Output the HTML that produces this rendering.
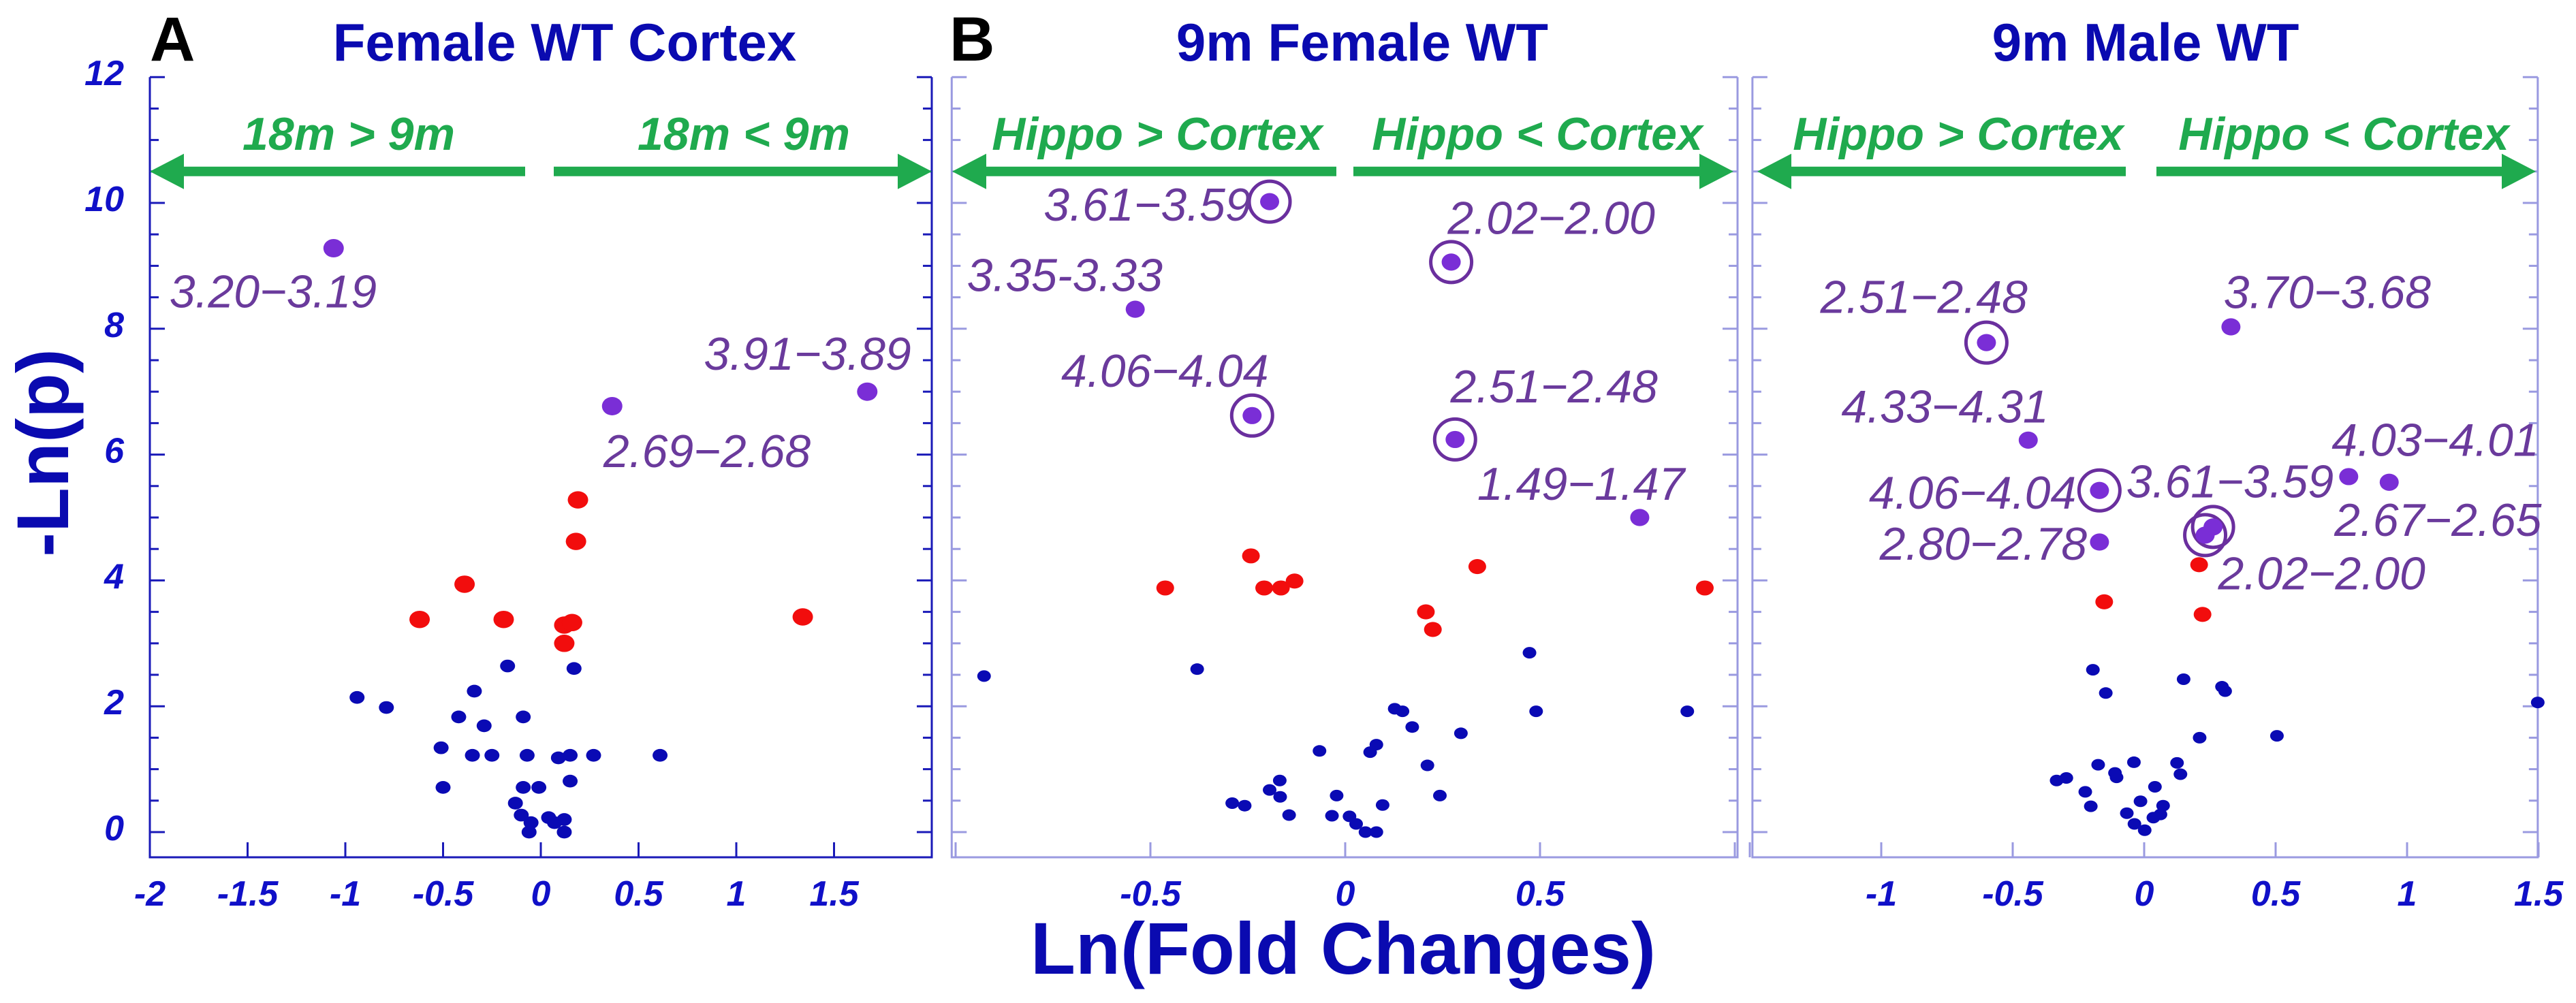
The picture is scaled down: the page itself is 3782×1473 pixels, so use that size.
<!DOCTYPE html>
<html><head><meta charset="utf-8">
<style>
html,body{margin:0;padding:0;background:#fff;}
svg{display:block;}
text{font-family:"Liberation Sans",Arial,sans-serif;}
</style></head>
<body>
<svg id="chart" width="3782" height="1473" viewBox="0 0 3782 1473" xmlns="http://www.w3.org/2000/svg">
<text x="220" y="89" font-size="92" font-weight="bold" fill="#000">A</text>
<text x="1394" y="89" font-size="92" font-weight="bold" fill="#000">B</text>
<text x="829" y="89" font-size="78" font-weight="bold" fill="#0a0ab0" text-anchor="middle">Female WT Cortex</text>
<text x="2000" y="89" font-size="78" font-weight="bold" fill="#0a0ab0" text-anchor="middle">9m Female WT</text>
<text x="3150" y="89" font-size="78" font-weight="bold" fill="#0a0ab0" text-anchor="middle">9m Male WT</text>
<text transform="translate(100,665) rotate(-90)" font-size="108" font-weight="bold" fill="#0a0ab0" text-anchor="middle">-Ln(p)</text>
<text x="1972" y="1430" font-size="108" font-weight="bold" fill="#0a0ab0" text-anchor="middle">Ln(Fold Changes)</text>
<g id="plots"></g>
</svg>
<script>
// Panel A data: Female WT Cortex
const aBlueX=[-0.94,-0.79,-0.17,0.17,-0.34,-0.42,-0.09,-0.29,-0.51,-0.35,-0.25,-0.07,0.09,0.15,0.27,0.61,-0.50,-0.09,-0.01,0.15,-0.13,-0.10,-0.05,-0.06,0.04,0.07,0.12,0.12];
const aBlueY=[2.14,1.98,2.64,2.60,2.24,1.83,1.83,1.69,1.34,1.22,1.22,1.22,1.18,1.22,1.22,1.22,0.71,0.71,0.71,0.81,0.46,0.27,0.15,0.00,0.23,0.15,0.20,0.00];
const aRedX=[-0.62,-0.39,-0.19,0.19,0.18,0.12,0.16,0.12,1.34];
const aRedY=[3.38,3.94,3.38,5.28,4.62,3.29,3.33,3.00,3.42];
const aPurpleX=[-1.06,0.365,1.67];
const aPurpleY=[9.28,6.77,7.00];
const aRingX=[];
const aRingY=[];
const aLabelText=["3.20\u22123.19","3.91\u22123.89","2.69\u22122.68"];
const aLabelX=[-1.90,0.834,0.32];
const aLabelY=[8.34,7.35,5.80];
const aTicks=[-2,-1.5,-1,-0.5,0,0.5,1,1.5];
const aTickLabels=["-2","-1.5","-1","-0.5","0","0.5","1","1.5"];

// Panel B data: 9m Female WT
const bBlueX=[-0.927,-0.38,0.473,0.49,0.878,0.127,0.147,0.172,0.297,-0.066,0.064,0.08,0.211,0.243,-0.168,-0.194,-0.167,-0.29,-0.258,-0.144,-0.022,-0.034,0.011,0.028,0.052,0.08,0.096];
const bBlueY=[2.48,2.59,2.85,1.92,1.92,1.96,1.92,1.67,1.57,1.29,1.27,1.39,1.06,0.58,0.82,0.67,0.56,0.46,0.42,0.27,0.58,0.26,0.25,0.13,0.00,0.00,0.43];
const bRedX=[-0.242,-0.462,-0.208,-0.165,-0.13,0.339,0.207,0.225,0.923];
const bRedY=[4.39,3.88,3.88,3.88,3.99,4.22,3.50,3.22,3.88];
const bPurpleX=[-0.539,0.756,-0.194,0.272,-0.239,0.282];
const bPurpleY=[8.31,5.00,10.02,9.06,6.62,6.24];
const bRingX=[-0.194,0.272,-0.239,0.282];
const bRingY=[10.02,9.06,6.62,6.24];
const bLabelText=["3.61\u22123.59","2.02\u22122.00","3.35-3.33","4.06\u22124.04","2.51\u22122.48","1.49\u22121.47"];
const bLabelX=[-0.774,0.263,-0.971,-0.729,0.27,0.339];
const bLabelY=[9.72,9.51,8.60,7.08,6.83,5.28];
const bTicks=[-1,-0.5,0,0.5,1];
const bTickLabels=["","-0.5","0","0.5",""];

// Panel C data: 9m Male WT
const cBlueX=[-0.195,-0.146,0.15,0.296,0.308,1.497,0.211,0.505,-0.175,-0.039,-0.111,-0.105,0.125,0.138,-0.333,-0.296,-0.224,-0.203,0.041,-0.014,0.072,0.062,-0.066,0.035,-0.037,0.002];
const cBlueY=[2.58,2.21,2.43,2.31,2.24,2.06,1.50,1.53,1.07,1.11,0.94,0.87,1.10,0.92,0.82,0.86,0.64,0.41,0.72,0.49,0.42,0.28,0.30,0.23,0.13,0.03];
const cRedX=[0.209,-0.152,0.222];
const cRedY=[4.25,3.66,3.46];
const cPurpleX=[0.33,-0.441,-0.17,0.778,0.932,-0.60,-0.17,0.232,0.262];
const cPurpleY=[8.03,6.23,4.61,5.65,5.56,7.78,5.43,4.72,4.85];
const cRingX=[-0.60,-0.17,0.232,0.262];
const cRingY=[7.78,5.43,4.72,4.85];
const cLabelText=["2.51\u22122.48","3.70\u22123.68","4.33\u22124.31","4.03\u22124.01","4.06\u22124.04","3.61\u22123.59","2.67\u22122.65","2.80\u22122.78","2.02\u22122.00"];
const cLabelX=[-1.232,0.302,-1.152,0.713,-1.047,-0.068,0.723,-1.006,0.281];
const cLabelY=[8.25,8.33,6.51,5.98,5.14,5.32,4.71,4.33,3.86];
const cTicks=[-1.5,-1,-0.5,0,0.5,1,1.5];
const cTickLabels=["","-1","-0.5","0","0.5","1","1.5"];

const yTicks=[0,2,4,6,8,10,12];
const yTickLabels=["0","2","4","6","8","10","12"];

const NS="http://www.w3.org/2000/svg";
const root=document.getElementById('plots');
function mk(tag,attrs,parent){const e=document.createElementNS(NS,tag);for(const k in attrs)e.setAttribute(k,attrs[k]);(parent||root).appendChild(e);return e;}

const Y0=1222, YPU=92.4, YMIN=-0.4, YMAX=12;
function yS(v){return Y0-v*YPU;}

function panel(cfg){
  const g=mk('g',{});
  
  
  const xS=v=>cfg.x0+v*cfg.xpu;
  const L=xS(cfg.xmin), R=xS(cfg.xmax), T=yS(YMAX), B=yS(YMIN);
  const col=cfg.frame;
  const ax=mk('path',{d:`M${L},${T} L${L},${B} L${R},${B} L${R},${T}`,fill:'none',stroke:col,'stroke-width':3},g);
  
  
  for(let v=0;v<=12.001;v+=0.5){
    const major=Math.abs(v%2)<0.01;
    const len=major?22:13;
    mk('line',{x1:L,x2:L+len,y1:yS(v),y2:yS(v),stroke:col,'stroke-width':3},g);
    mk('line',{x1:R,x2:R-len,y1:yS(v),y2:yS(v),stroke:col,'stroke-width':3},g);
  }
  cfg.ticks.forEach((v,i)=>{
    mk('line',{x1:xS(v),x2:xS(v),y1:B,y2:B-22,stroke:col,'stroke-width':3},g);
    if(cfg.tickLabels[i]){
      const t=mk('text',{x:xS(v),y:1330,'font-size':52,'font-weight':'bold','font-style':'italic',fill:'#1010c8','text-anchor':'middle'},g);
      t.textContent=cfg.tickLabels[i];
      
      
    }
  });
  if(cfg.yLabels){
    yTicks.forEach((v,i)=>{
      const t=mk('text',{x:182,y:yS(v)+12,'font-size':52,'font-weight':'bold','font-style':'italic',fill:'#1010c8','text-anchor':'end'},g);
      t.textContent=yTickLabels[i];
      
      
    });
  }
  const ay=yS(10.5), green='#1faa4e';
  [[cfg.arr[0],cfg.arr[1]],[cfg.arr[2],cfg.arr[3]]].forEach(([tail,tip],k)=>{
    const dir=tip>tail?1:-1;
    const hb=tip-dir*50;
    const a=mk('path',{d:`M${tail},${ay-7} L${hb},${ay-7} L${hb},${ay-26} L${tip},${ay} L${hb},${ay+26} L${hb},${ay+7} L${tail},${ay+7} Z`,fill:green},g);
    
    
    const t=mk('text',{x:cfg.arrText[k],y:220,'font-size':cfg.arrFont,'font-weight':'bold','font-style':'italic',fill:green,'text-anchor':'middle'},g);
    t.textContent=cfg.arrLabels[k];
    
    
  });
  cfg.blueX.forEach((x,i)=>{
    const c=mk('ellipse',{cx:xS(x),cy:yS(cfg.blueY[i]),rx:cfg.rb,ry:cfg.rb*0.85,fill:'#0a0ab4'},g);
    
    
  });
  cfg.redX.forEach((x,i)=>{
    const c=mk('ellipse',{cx:xS(x),cy:yS(cfg.redY[i]),rx:cfg.rr,ry:cfg.rr*0.85,fill:'#f20d0d'},g);
    
    
  });
  cfg.ringX.forEach((x,i)=>{
    const c=mk('circle',{cx:xS(x),cy:yS(cfg.ringY[i]),r:30,fill:'none',stroke:'#6a2f9e','stroke-width':5},g);
    
    
  });
  cfg.purpleX.forEach((x,i)=>{
    const c=mk('ellipse',{cx:xS(x),cy:yS(cfg.purpleY[i]),rx:cfg.rp,ry:cfg.rp*0.9,fill:'#7a2ed6'},g);
    
    
  });
  cfg.labelText.forEach((s,i)=>{
    const t=mk('text',{x:xS(cfg.labelX[i]),y:yS(cfg.labelY[i]),'font-size':68,'font-style':'italic',fill:'#6a3a9c'},g);
    t.textContent=s;
    
    
  });
}

panel({name:'panel-a',x0:794,xpu:287,xmin:-2,xmax:2.0,frame:'#1a1ab8',ticks:aTicks,tickLabels:aTickLabels,yLabels:true,
  arr:[771,220,813,1368],arrText:[512,1092],arrFont:68,arrLabels:['18m > 9m','18m < 9m'],
  blueX:aBlueX,blueY:aBlueY,redX:aRedX,redY:aRedY,purpleX:aPurpleX,purpleY:aPurpleY,ringX:aRingX,ringY:aRingY,
  labelText:aLabelText,labelX:aLabelX,labelY:aLabelY,rb:11,rr:15,rp:15});
panel({name:'panel-b',x0:1975,xpu:572,xmin:-1.01,xmax:1.007,frame:'#9a9ae0',ticks:bTicks,tickLabels:bTickLabels,yLabels:false,
  arr:[1962,1398,1987,2545],arrText:[1699,2257],arrFont:68,arrLabels:['Hippo > Cortex','Hippo < Cortex'],
  blueX:bBlueX,blueY:bBlueY,redX:bRedX,redY:bRedY,purpleX:bPurpleX,purpleY:bPurpleY,ringX:bRingX,ringY:bRingY,
  labelText:bLabelText,labelX:bLabelX,labelY:bLabelY,rb:10,rr:13,rp:14});
panel({name:'panel-c',x0:3148,xpu:386,xmin:-1.49,xmax:1.497,frame:'#9a9ae0',ticks:cTicks,tickLabels:cTickLabels,yLabels:false,
  arr:[3121,2580,3166,3723],arrText:[2875,3441],arrFont:68,arrLabels:['Hippo > Cortex','Hippo < Cortex'],
  blueX:cBlueX,blueY:cBlueY,redX:cRedX,redY:cRedY,purpleX:cPurpleX,purpleY:cPurpleY,ringX:cRingX,ringY:cRingY,
  labelText:cLabelText,labelX:cLabelX,labelY:cLabelY,rb:10,rr:13,rp:14});
</script>
</body></html>
